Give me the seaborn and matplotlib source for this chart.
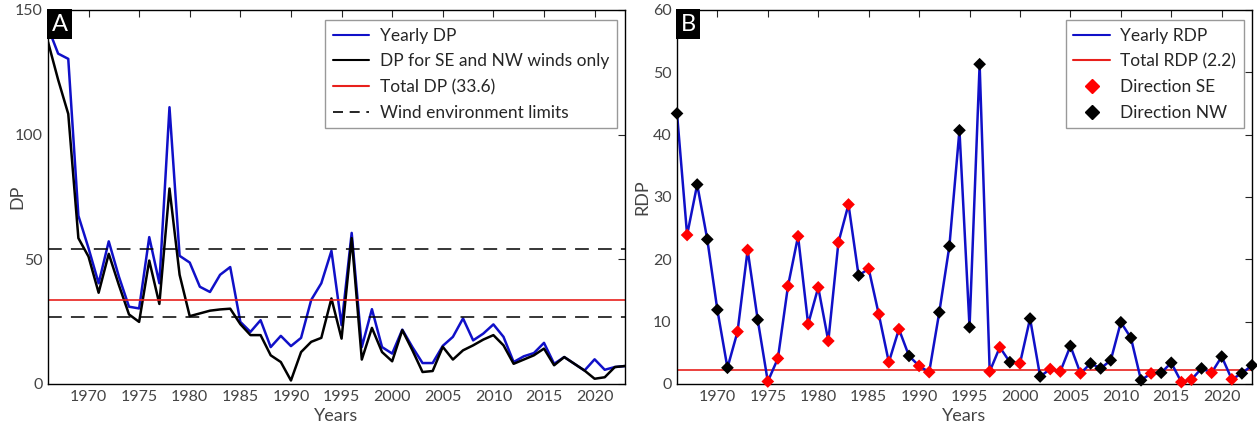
import matplotlib
matplotlib.use("Agg")
import matplotlib.pyplot as plt
import seaborn as sns
import pandas as pd
from matplotlib.lines import Line2D

years = list(range(1966, 2024))

# panel A - drift potential
dp_yearly = [143, 132.5, 130.4, 67.5, 54.5, 40.4, 57.2, 43.1, 31.0, 30.3,
             58.9, 40.4, 111.0, 51.4, 48.7, 39.0, 36.9, 43.8, 46.9, 24.9,
             20.9, 25.6, 14.8, 19.3, 15.2, 18.5, 33.7, 40.4, 53.4, 23.6,
             60.6, 14.8, 30.0, 14.8, 12.2, 21.8, 14.8, 8.4, 8.4, 15.3,
             18.9, 26.3, 17.5, 20.2, 23.9, 18.9, 8.8, 11.1, 12.4, 16.5,
             8.1, 10.8, 8.1, 5.4, 9.9, 5.7, 6.8, 7.2]
dp_se_nw = [137.2, 122.0, 108.3, 58.5, 51.1, 36.6, 52.2, 39.7, 27.9, 24.9,
            49.5, 32.1, 78.4, 43.8, 27.2, 28.3, 29.4, 29.9, 30.2, 24.0,
            19.6, 19.6, 11.5, 8.8, 1.4, 12.8, 16.9, 18.5, 34.3, 18.2,
            58.5, 9.8, 22.5, 12.8, 9.1, 21.6, 13.5, 4.8, 5.2, 14.9,
            9.8, 13.5, 15.5, 17.8, 19.6, 15.5, 8.1, 9.8, 11.5, 14.2,
            7.5, 10.8, 8.1, 5.4, 2.1, 2.7, 6.8, 7.2]
total_dp = 33.6
env_limits = [54, 27]

# panel B - resultant drift potential
rdp = [43.4, 23.9, 32.0, 23.2, 11.9, 2.6, 8.4, 21.5, 10.3, 0.4,
       4.1, 15.7, 23.7, 9.6, 15.5, 6.9, 22.7, 28.8, 17.4, 18.5,
       11.2, 3.5, 8.8, 4.5, 2.9, 1.9, 11.5, 22.1, 40.7, 9.1,
       51.3, 2.0, 5.9, 3.5, 3.3, 10.5, 1.2, 2.4, 2.0, 6.1,
       1.7, 3.3, 2.5, 3.8, 9.9, 7.4, 0.6, 1.7, 1.8, 3.4,
       0.3, 0.7, 2.5, 1.8, 4.4, 0.75, 1.7, 3.0]
direction = ["NW", "SE", "NW", "NW", "NW", "NW", "SE", "SE", "NW", "SE",
             "SE", "SE", "SE", "SE", "SE", "SE", "SE", "SE", "NW", "SE",
             "SE", "SE", "SE", "NW", "SE", "SE", "NW", "NW", "NW", "NW",
             "NW", "SE", "SE", "NW", "SE", "NW", "NW", "SE", "SE", "NW",
             "SE", "NW", "NW", "NW", "NW", "NW", "NW", "SE", "NW", "NW",
             "SE", "SE", "NW", "SE", "NW", "SE", "NW", "NW"]
total_rdp = 2.2

df_a = pd.DataFrame({"year": years, "yearly": dp_yearly, "senw": dp_se_nw})
df_b = pd.DataFrame({"year": years, "rdp": rdp, "dir": direction})

sns.set_style("white")
plt.rcParams['font.family'] = ['Lato', 'DejaVu Sans']

BLUE = "#1010c8"
RED = "#e8201c"
GREY = "#444444"

fig = plt.figure(figsize=(12.57, 4.25), dpi=100)
ax1 = fig.add_axes([0.0382, 0.0965, 0.459, 0.88])
ax2 = fig.add_axes([0.5386, 0.0965, 0.4574, 0.88])

leg_kw = dict(loc="upper right", fontsize=12.5, fancybox=False, edgecolor="#999999",
              framealpha=1, borderpad=0.45, labelspacing=0.55, handlelength=2.1,
              handletextpad=0.6, borderaxespad=0, bbox_to_anchor=(0.986, 0.973))

# left graph
sns.lineplot(df_a, x="year", y="yearly", ax=ax1, color=BLUE, lw=1.8)
sns.lineplot(df_a, x="year", y="senw", ax=ax1, color="black", lw=1.8)
ax1.axhline(total_dp, color=RED, lw=1.2)
for lim in env_limits:
    ax1.axhline(lim, color="black", lw=1.1, dashes=(9, 6))
ax1.set(xlim=(1966, 2023), ylim=(0, 150))
ax1.set_yticks([0, 50, 100, 150])
ax1.set_ylabel("DP", color=GREY, fontsize=13)
ax1.yaxis.set_label_coords(-0.040, 0.5)
ax1.legend(handles=[Line2D([], [], color=BLUE, lw=1.5, label="Yearly DP"),
                    Line2D([], [], color="black", lw=1.5, label="DP for SE and NW winds only"),
                    Line2D([], [], color=RED, lw=1.5, label="Total DP (33.6)"),
                    Line2D([], [], color="black", lw=1.2, dashes=(6, 4), label="Wind environment limits")],
           **leg_kw)

# right graph
sns.lineplot(df_b, x="year", y="rdp", ax=ax2, color=BLUE, lw=1.8, zorder=2)
ax2.axhline(total_rdp, color=RED, lw=1.2, zorder=1)
sns.scatterplot(df_b, x="year", y="rdp", hue="dir", ax=ax2, marker="D", s=42,
                palette={"SE": "#ff0000", "NW": "black"}, edgecolor="none",
                legend=False, zorder=3, clip_on=False)
ax2.set(xlim=(1966, 2023), ylim=(0, 60))
ax2.set_yticks(range(0, 61, 10))
ax2.set_ylabel("RDP", color=GREY, fontsize=13)
ax2.yaxis.set_label_coords(-0.047, 0.5)
ax2.legend(handles=[Line2D([], [], color=BLUE, lw=1.5, label="Yearly RDP"),
                    Line2D([], [], color=RED, lw=1.5, label="Total RDP (2.2)"),
                    Line2D([], [], ls="none", marker="D", color="#ff0000", ms=7.5, label="Direction SE"),
                    Line2D([], [], ls="none", marker="D", color="black", ms=7.5, label="Direction NW")],
           **leg_kw)

for ax, letter in [(ax1, "A"), (ax2, "B")]:
    ax.set_xticks(range(1970, 2021, 5))
    ax.set_xlabel("Years", color=GREY, fontsize=13, labelpad=3)
    ax.tick_params(direction="in", top=True, right=True, length=5, width=0.8,
                   labelsize=11.5, labelcolor=GREY, pad=4)
    for sp in ax.spines.values():
        sp.set_color("black")
        sp.set_linewidth(1.0)
    ax.text(0.006, 0.99, letter, transform=ax.transAxes, ha="left", va="top",
            color="white", fontsize=17,
            bbox=dict(facecolor="black", edgecolor="none", pad=3))

plt.savefig("out.png", dpi=100)
